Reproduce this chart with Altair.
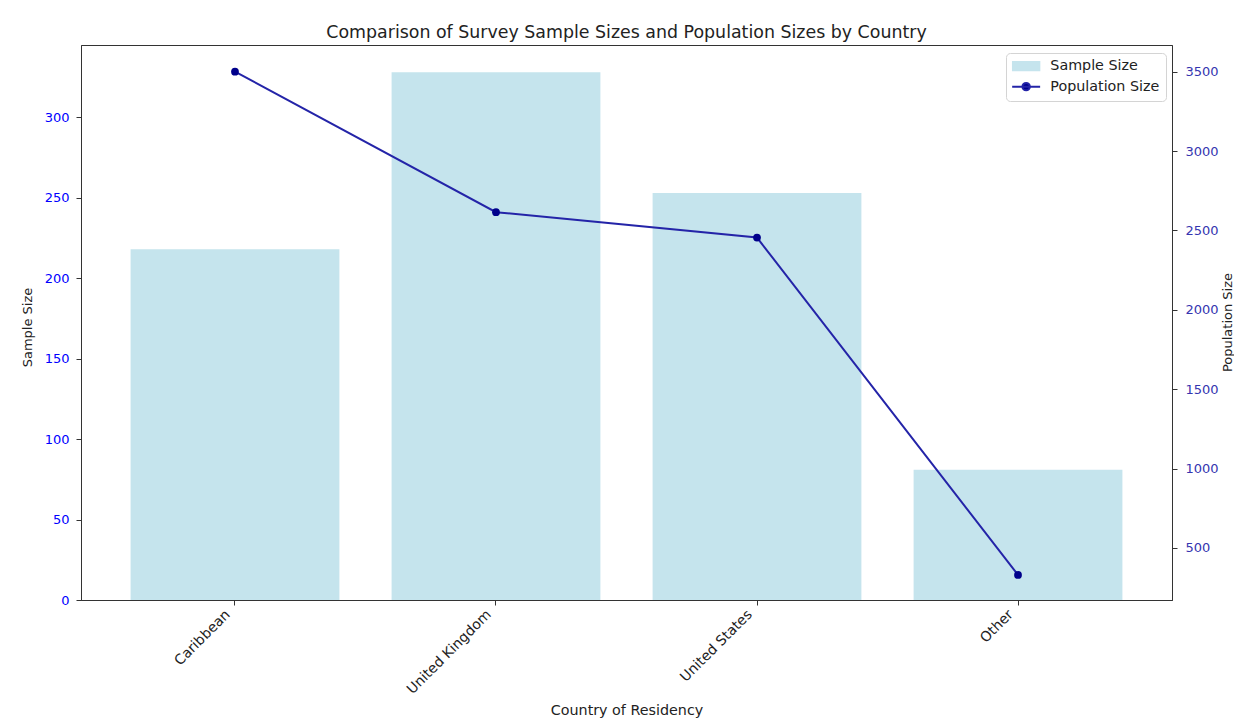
import altair as alt
import pandas as pd

countries = ["Caribbean", "United Kingdom", "United States", "Other"]
sample_sizes = [218, 328, 253, 81]
population_sizes = [3500, 2615, 2455, 330]

series_names = ["Sample Size", "Population Size"]

left_ticks = [0, 50, 100, 150, 200, 250, 300]
right_ticks = [500, 1000, 1500, 2000, 2500, 3000, 3500]

df = pd.DataFrame({"Country": countries, "Sample": sample_sizes, "Population": population_sizes})

FONT = "DejaVu Sans"
AX = "#333333"
TXT = "#222222"
BAR = "#c5e4ed"
LINE = "#2424a8"
DOT = "#00008b"

# legend symbol paths (unit = 6px with symbolSize 144)
RECT_PATH = "M-2.2,-0.7H2.2V0.7H-2.2Z"
LINE_DOT_PATH = "M-2.33,0H2.33M0.62,0A0.62,0.62 0 1 1 -0.62,0A0.62,0.62 0 1 1 0.62,0"

fill_scale = alt.Scale(domain=series_names, range=[BAR, DOT])
stroke_scale = alt.Scale(domain=series_names, range=[BAR, LINE])
shape_scale = alt.Scale(domain=series_names, range=[RECT_PATH, LINE_DOT_PATH])

LEG = alt.Legend(title=None, orient="none", legendX=925, legendY=8,
                 fillColor="white", strokeColor="#d4d4d4", cornerRadius=4,
                 padding=6, labelFontSize=14.3, labelColor=TXT,
                 symbolSize=144, symbolStrokeWidth=2, symbolOpacity=1,
                 symbolOffset=7, rowPadding=3.5, labelOffset=17)

x_enc = alt.X(
    "Country:N",
    sort=countries,
    title="Country of Residency",
    scale=alt.Scale(paddingInner=0.2, paddingOuter=0.19),
    axis=alt.Axis(labelAngle=-45, labelAlign="right", labelBaseline="bottom",
                  labelFontSize=14, titleFontSize=14.3, labelColor=TXT,
                  titleColor=TXT, tickSize=5, tickColor=AX, domainColor=AX,
                  labelPadding=12, labelOffset=-2,
                  titleX=545.5, titleY=110, titleBaseline="middle",
                  titleAlign="center", titleFontWeight="normal"),
)

bars = alt.Chart(df).transform_calculate(series="'Sample Size'").mark_bar(strokeWidth=0).encode(
    x=x_enc,
    y=alt.Y("Sample:Q", title="Sample Size",
            scale=alt.Scale(domain=[0, 345], nice=False, zero=True),
            axis=alt.Axis(values=left_ticks, labelColor="blue", titleColor=TXT,
                          labelFontSize=13, titleFontSize=13, tickSize=5, tickColor=AX,
                          domainColor=AX, grid=False, labelPadding=7,
                          titleX=-54, titleY=282, titleAngle=270, titleAlign="center",
                          titleBaseline="middle", titleFontWeight="normal")),
    fill=alt.Fill("series:N", scale=fill_scale, legend=LEG),
)

y_right = alt.Y("Population:Q", title="Population Size",
                scale=alt.Scale(domain=[172, 3668], nice=False, zero=False),
                axis=alt.Axis(orient="right", values=right_ticks, format="d",
                              labelColor="#3535b0", titleColor=TXT, labelFontSize=13,
                              titleFontSize=13, tickSize=5, tickColor=AX, domainColor=AX,
                              grid=False, labelPadding=8,
                              titleX=55, titleY=277, titleAngle=270, titleAlign="center",
                              titleBaseline="middle", titleFontWeight="normal"))

line = alt.Chart(df).transform_calculate(series="'Population Size'").mark_line(strokeWidth=2).encode(
    x=x_enc,
    y=y_right,
    stroke=alt.Stroke("series:N", scale=stroke_scale, legend=LEG),
)

points = alt.Chart(df).mark_circle(size=60, color=DOT, opacity=1).encode(
    x=x_enc,
    y=y_right,
)

ghost = alt.Chart(df).transform_calculate(series="'Population Size'").transform_filter("false").mark_point(filled=True).encode(
    shape=alt.Shape("series:N", scale=shape_scale, legend=LEG),
    fill=alt.Fill("series:N", scale=fill_scale, legend=LEG),
    stroke=alt.Stroke("series:N", scale=stroke_scale, legend=LEG),
)

chart = alt.layer(bars, alt.layer(line, points, ghost)).resolve_scale(y="independent").properties(
    width=1091,
    height=555,
    title=alt.Title("Comparison of Survey Sample Sizes and Population Sizes by Country",
                    fontSize=17.4, font=FONT, fontWeight="normal", color=TXT,
                    anchor="middle", offset=3.5),
    autosize=alt.AutoSizeParams(type="none"),
    padding={"left": 73, "top": 37, "right": 62, "bottom": 119},
).configure(
    font=FONT,
).configure_view(
    stroke=AX, strokeWidth=1,
)

chart.save("out.html", embed_options={"renderer": "svg", "actions": False})
